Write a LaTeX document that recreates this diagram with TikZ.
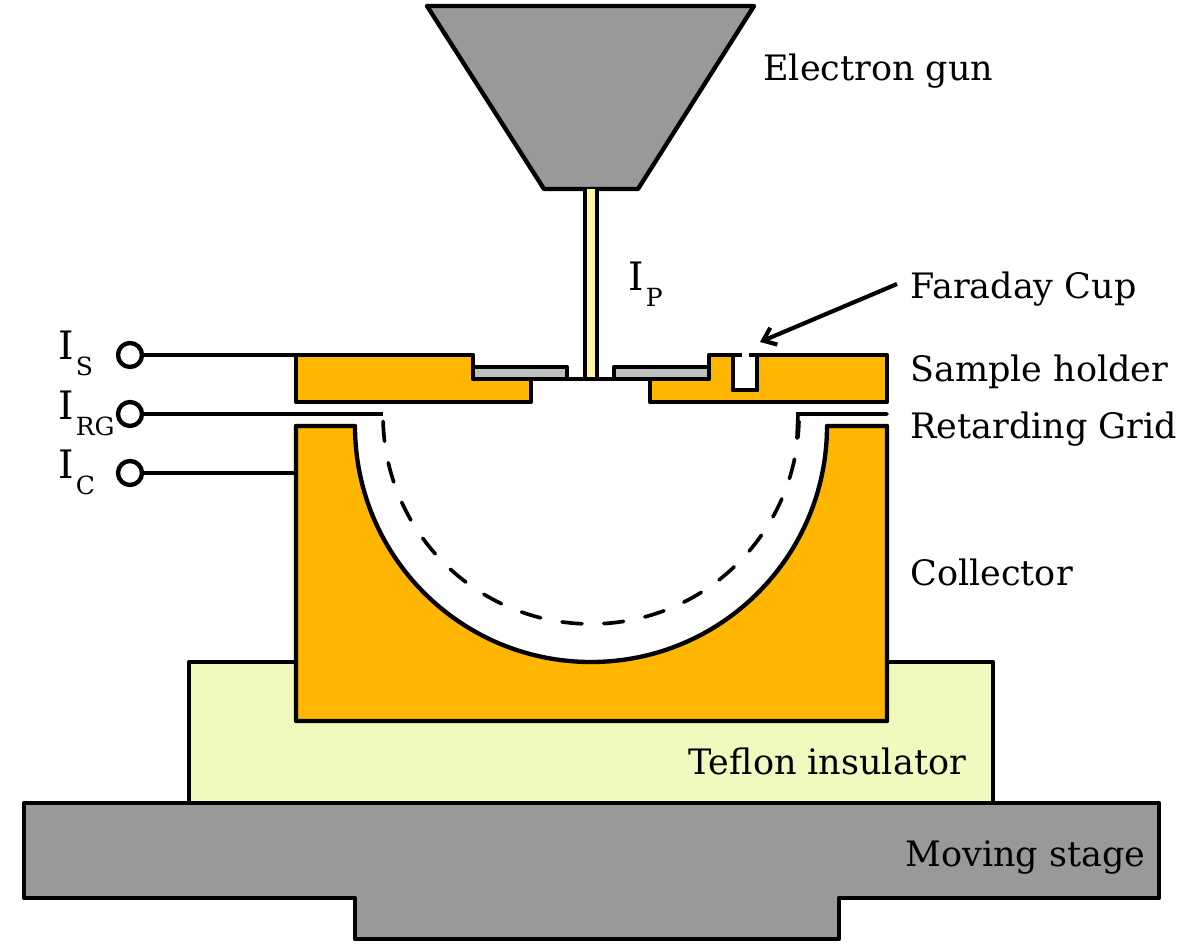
\documentclass[tikz,border=0pt]{standalone}
\usepackage{fontspec}
\setmainfont{DejaVu Serif}
\usetikzlibrary{arrows.meta}
\definecolor{holdercol}{HTML}{FFB600}
\definecolor{metalcol}{HTML}{999999}
\definecolor{samplecol}{HTML}{BFBFBF}
\definecolor{beamcol}{HTML}{FFF5A3}
\definecolor{tefloncol}{HTML}{F2F9BF}
\newcommand{\curlab}[1]{{\fontsize{23.5}{24}\selectfont I}\kern1.2pt\raisebox{-9.6pt}{\fontsize{15}{16}\selectfont #1}}

\begin{document}
\begin{tikzpicture}[
x=0.6pt,y=0.6pt,
part/.style={
  draw,
  line width=2.6pt,
  line join=round
},
wire/.style={
  draw,
  line width=2.5pt
},
term/.style={
  draw,
  circle,
  line width=2.6pt,
  fill=white,
  minimum size=14.4pt,
  inner sep=0pt
},
lab/.style={
  anchor=base west,
  inner sep=0pt,
  font=\fontsize{21}{24}\selectfont
},
curr/.style={
  anchor=base west,
  inner sep=0pt
}
]
\useasboundingbox (0,1) rectangle (1182,946);

% stage and insulator
\draw[part,fill=tefloncol] (189,143) -- (189,284) -- (993,284) -- (993,143) -- cycle;
\draw[part,fill=metalcol] (24,143) -- (1159,143) -- (1159,48) -- (839,48) -- (839,7)
  -- (355,7) -- (355,48) -- (24,48) -- cycle;

% collector
\draw[part,fill=holdercol] (296,520) -- (355,520) arc (180:360:236) -- (887,520)
  -- (887,225) -- (296,225) -- cycle;
\coordinate (colL) at (296,473);

% gun and beam
\draw[part,fill=metalcol] (427,940) -- (754,940) -- (638,757) -- (544,757) -- cycle;
\draw[part,fill=beamcol] (585,757) -- (585,567) -- (597,567) -- (597,757);

% sample holder
\draw[part,fill=samplecol] (473,567) rectangle (567,579);
\draw[part,fill=samplecol] (614,567) rectangle (709,579);
\draw[part,fill=holdercol] (296,591) -- (473,591) -- (473,567) -- (531,567) -- (531,544)
  -- (296,544) -- cycle;
\draw[part,fill=holdercol] (650,544) -- (650,567) -- (709,567) -- (709,591) -- (733,591)
  -- (733,556) -- (757,556) -- (757,591) -- (887,591) -- (887,544) -- cycle;
\draw[part,draw=white,fill=white] (737,560) rectangle (753,594);
\draw[part] (733,591) -- (733,556) -- (757,556) -- (757,591);
\draw[part] (733,591) -- (742,591);
\draw[part] (757,591) -- (749,591);
\coordinate (stepL) at (473,567);
\coordinate (stepR) at (709,567);
\draw[part] (stepL) -- (stepR);
\coordinate (holdL) at (296,591);

% retarding grid
\coordinate (gridL) at (383,532);
\coordinate (gridR) at (887,532);
\coordinate (gridC) at (798,532);
\coordinate (gridE) at (797,508);
\draw[wire,line width=2.2pt,line cap=round] (gridR) -- (gridC) -- (gridE);
\draw[wire,line width=2.2pt,line cap=round,dash pattern=on 12pt off 13.05pt]
  (383.1,524.6) arc (181.5:358.5:208);

% terminals
\node[term] (termS) at (130,591) {};
\node[term] (termRG) at (130,532) {};
\node[term] (termC) at (130,473) {};
\draw[wire] (termS) -- (holdL);
\draw[wire] (termRG) -- (gridL);
\draw[wire] (termC) -- (colL);

% labels
\node[curr] (is) at (58,586) {\curlab{S}};
\node[curr] (irg) at (58,526) {\curlab{RG}};
\node[curr] (ic) at (58,467) {\curlab{C}};
\node[curr] (ip) at (628,655) {\curlab{P}};
\node[lab] (gun) at (763,865) {Electron gun};
\node[lab] (cup) at (910,647) {Faraday Cup};
\node[lab] (holder) at (910,564) {Sample holder};
\node[lab] (grid) at (910,507) {Retarding Grid};
\node[lab] (coll) at (910,360) {Collector};
\node[lab] (teflon) at (688,171) {Teflon insulator};
\node[lab] (stage) at (905,80) {Moving stage};

\coordinate (cupin) at (760,604);
\draw[wire,-{Straight Barb[length=7pt,width=11pt]}] (cup.base west) ++(-13,15) -- (cupin);
\end{tikzpicture}
\end{document}
